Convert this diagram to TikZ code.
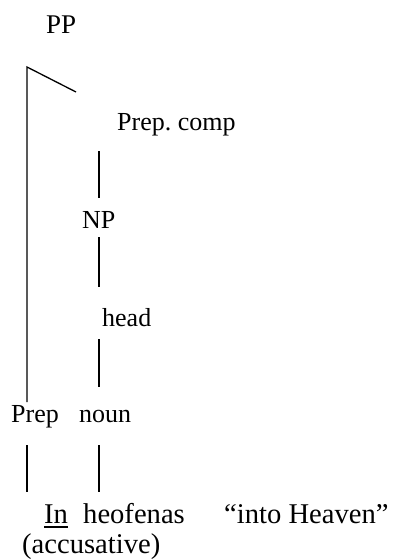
\documentclass[tikz,border=0pt]{standalone}
\usepackage{fontspec}
\setmainfont{Liberation Serif}
\begin{document}
\begin{tikzpicture}[x=1pt,y=-1pt,
  lbl/.style={anchor=base west,inner sep=0pt,font=\fontsize{26}{31}\selectfont},
  word/.style={lbl,font=\fontsize{28.6}{34}\selectfont},
  branch/.style={line width=1.3pt,line cap=butt},
  uline/.style={line width=1.6pt}]
\useasboundingbox[fill=white] (0,0) rectangle (393,559);
% category labels
\node[lbl,font=\fontsize{27}{32}\selectfont] (pp) at (46,34) {PP};
\node[lbl] (pcomp) at (117,131) {Prep.\ comp};
\node[lbl] (np)    at (82,228) {NP};
\node[lbl] (head)  at (102,326) {head};
\node[lbl] (prep)  at (11,422) {Prep};
\node[lbl] (noun)  at (79,422) {noun};
% words
\node[word] (in)    at (44,523) {In};
\node[word] (heo)   at (83,523) {heofenas};
\node[word] (gloss) at (224,523) {“into Heaven”};
\node[word] (acc)   at (22,553) {(accusative)};
% branch end points
\coordinate (top)  at (27,67);
\coordinate (diag) at (76,92);
\coordinate (lmid) at (27,402);
\coordinate (c1a)  at (99,151);
\coordinate (c1b)  at (99,198);
\coordinate (c2a)  at (99,237);
\coordinate (c2b)  at (99,287);
\coordinate (c3a)  at (99,339);
\coordinate (c3b)  at (99,387);
\coordinate (l4a)  at (27,445);
\coordinate (l4b)  at (27,492);
\coordinate (r4a)  at (99,445);
\coordinate (r4b)  at (99,492);
% branches
\draw[branch] (diag) -- (top) -- (lmid);
\draw[branch] (c1a) -- (c1b);
\draw[branch] (c2a) -- (c2b);
\draw[branch] (c3a) -- (c3b);
\draw[branch] (l4a) -- (l4b);
\draw[branch] (r4a) -- (r4b);
% underline of the preposition
\draw[uline] ([yshift=-4pt]in.base west) -- ([yshift=-4pt]in.base east);
\end{tikzpicture}
\end{document}
